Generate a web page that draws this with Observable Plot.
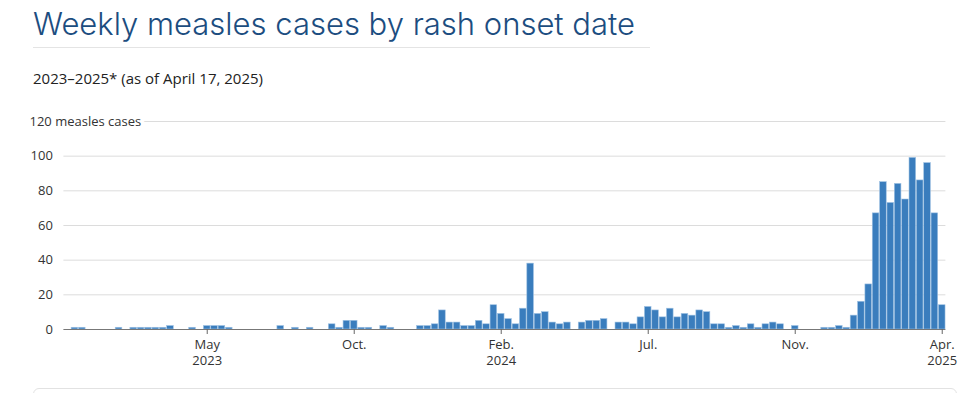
<!DOCTYPE html>
<html><head><meta charset="utf-8">
<script src="https://cdn.jsdelivr.net/npm/d3@7"></script>
<script src="https://cdn.jsdelivr.net/npm/@observablehq/plot@0.6"></script>
<style>
body{margin:0;background:#fff;font-family:"Open Sans",sans-serif;}
#wrap{position:relative;width:977px;height:393px;overflow:hidden;}
#title{position:absolute;left:33px;top:5px;font-family:Inter,sans-serif;font-size:31px;color:#1c4d80;font-weight:300;white-space:nowrap;}
#rule{position:absolute;left:33px;top:47px;width:617px;height:1px;background:#e4e4e4;}
#sub{position:absolute;left:33px;top:68px;font-size:15px;color:#222;white-space:nowrap;}
#chart{position:absolute;left:0;top:100px;}
#card{position:absolute;left:33px;top:388px;width:922px;height:30px;border:1px solid #e2e2e2;border-radius:6px;}
</style></head>
<body>
<div id="wrap">
  <div id="title">Weekly measles cases by rash onset date</div>
  <div id="rule"></div>
  <div id="sub">2023–2025* (as of April 17, 2025)</div>
  <div id="chart"></div>
  <div id="card"></div>
</div>
<script>
// Week index 0 = week beginning Jan 1, 2023; 120 weeks through mid-April 2025
const weeks = d3.range(120);
const cases = [
  0,1,1,0,0,0,0,1,0,1, 1,1,1,1,2,0,0,1,0,2,
  2,2,1,0,0,0,0,0,0,2, 0,1,0,1,0,0,3,1,5,5,
  1,1,0,2,1,0,0,0,2,2, 3,11,4,4,2,2,5,3,14,9,
  6,3,12,38,9,10,4,3,4,0, 4,5,5,6,0,4,4,3,7,13,
  11,7,12,7,9,8,11,10,3,3, 1,2,1,3,1,3,4,3,0,2,
  0,0,0,1,1,2,1,8,16,26, 67,85,73,84,75,99,86,96,67,14
];
const yTicks = [0, 20, 40, 60, 80, 100];
const yTopLabel = "120 measles cases";
const tickWeeks = [19, 39, 59, 79, 99, 119];
const tickLabels = ["May\n2023", "Oct.", "Feb.\n2024", "Jul.", "Nov.", "Apr.\n2025"];
const labelMap = new Map(tickWeeks.map((w, i) => [w, tickLabels[i]]));

const chart = Plot.plot({
  width: 977,
  height: 270,
  marginTop: 21,
  marginBottom: 41,
  marginLeft: 63.4,
  marginRight: 31.6,
  style: {fontFamily: "'Open Sans', sans-serif", fontSize: "13px", color: "#333", background: "white"},
  x: {type: "band", domain: weeks, paddingInner: 0.1, paddingOuter: 0.05, label: null, axis: null},
  y: {domain: [0, 120], label: null, axis: null},
  marks: [
    Plot.ruleY(yTicks.slice(1).concat([120]), {stroke: "#dcdcdc", strokeWidth: 1}),
    Plot.barY(weeks, {x: d => d, y: d => cases[d], fill: "#3a7dbd", stroke: "#9fc2e3", strokeWidth: 0.6}),
    Plot.ruleY([0], {stroke: "#777", strokeWidth: 1.2}),
    Plot.axisY(yTicks, {anchor: "left", tickSize: 0, tickPadding: 11, label: null, fontSize: 13, fill: "#333"}),
    Plot.text([yTopLabel], {text: d => d, frameAnchor: "top-left", lineAnchor: "middle", dx: -34.4, textAnchor: "start",
      fill: "#333", stroke: "white", strokeWidth: 8, paintOrder: "stroke", fontSize: 13}),
    Plot.axisX(tickWeeks, {anchor: "bottom", tickSize: 5, tickPadding: 3, stroke: "#666",
      tickFormat: d => labelMap.get(d), label: null, fontSize: 13, fill: "#333", lineHeight: 1.25})
  ]
});
document.getElementById("chart").appendChild(chart);
</script>
</body></html>
